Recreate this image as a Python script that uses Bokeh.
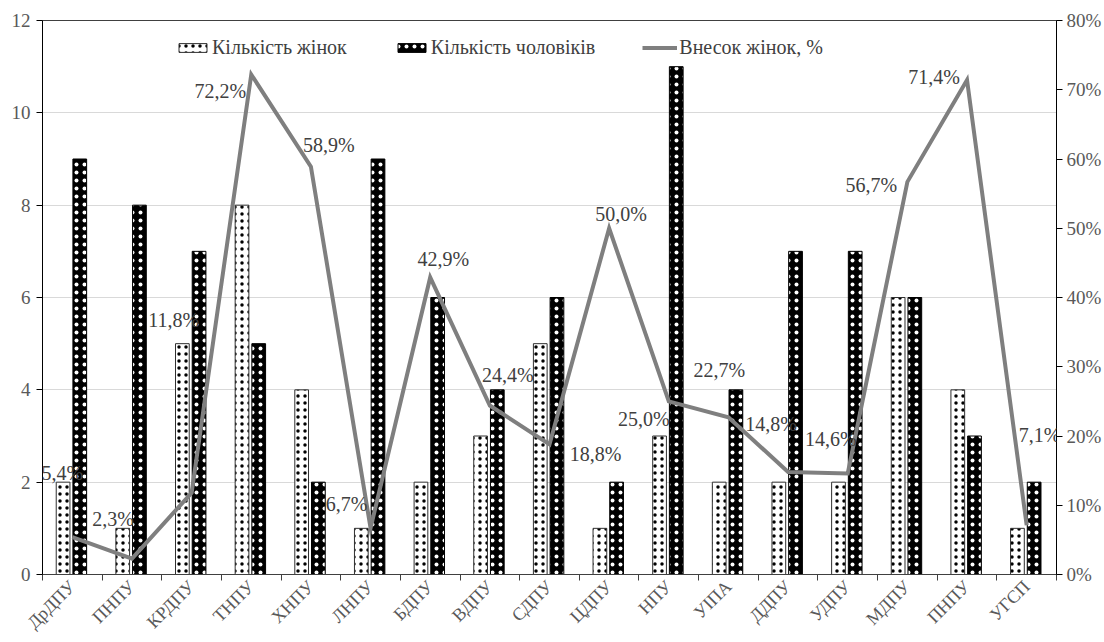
import numpy as np
from bokeh.plotting import figure
from bokeh.models import (ColumnDataSource, Range1d, LinearAxis, FixedTicker,
                          PrintfTickFormatter, Legend, LegendItem, Label)
from bokeh.transform import dodge
from bokeh.embed import file_html
from bokeh.resources import INLINE

categories = ["ДрДПУ", "ПНПУ", "КРДПУ", "ТНПУ", "ХНПУ", "ЛНПУ", "БДПУ", "ВДПУ",
              "СДПУ", "ЦДПУ", "НПУ", "УІПА", "ДДПУ", "УДПУ", "МДПУ", "ПНПУ", "УГСП"]
women = [2, 1, 5, 8, 4, 1, 2, 3, 5, 1, 3, 2, 2, 2, 6, 4, 1]
men = [9, 8, 7, 5, 2, 9, 6, 4, 6, 2, 11, 4, 7, 7, 6, 3, 2]
share_pct = [5.4, 2.3, 11.8, 72.2, 58.9, 6.7, 42.9, 24.4, 18.8, 50.0, 25.0, 22.7,
             14.8, 14.6, 56.7, 71.4, 7.1]
left_ticks = [0, 2, 4, 6, 8, 10, 12]
right_ticks = [0, 10, 20, 30, 40, 50, 60, 70, 80]

# label placement (screen pixel offsets from each line point; dy positive = down)
label_dx = [-10, -19, -18, -31, 18, -24, 13, 18, 46, 12, -25, -9, -17, -17, -36, -33, 13]
label_dy = [-64, -40, -173, 16, -22, -24, -18, -31, 10, -14, 18, -47, -48, -34, 3, -3, -90]

FONT = "'Liberation Serif', 'Times New Roman', serif"
TICK_COLOR = "#595959"
TEXT_COLOR = "#404040"

n = len(categories)
xpos = np.arange(n) + 0.5
src = ColumnDataSource(dict(x=xpos, women=women, men=men, pct=share_pct))

p = figure(width=1104, height=642, x_range=Range1d(0, n), y_range=Range1d(0, 12),
           output_backend="svg", toolbar_location=None,
           min_border_left=42, min_border_right=45, min_border_top=20, min_border_bottom=64)
p.extra_y_ranges = {"pct": Range1d(0, 80)}

p.background_fill_color = "white"
p.border_fill_color = "white"
p.outline_line_color = "#404040"
p.outline_line_width = 1

# grid
p.xgrid.grid_line_color = None
p.ygrid.grid_line_color = "#d9d9d9"
p.ygrid.grid_line_width = 1

# x axis
xa = p.xaxis[0]
xa.ticker = FixedTicker(ticks=list(xpos), minor_ticks=list(range(n + 1)))
xa.major_label_overrides = {float(x): c for x, c in zip(xpos, categories)}
xa.major_label_orientation = np.pi / 4
xa.major_tick_line_color = None
xa.minor_tick_line_color = "#404040"
xa.minor_tick_out = 6
xa.minor_tick_in = 0
xa.axis_line_color = "#404040"
xa.major_label_text_font = FONT
xa.major_label_text_font_size = "18px"
xa.major_label_text_color = TICK_COLOR
xa.major_label_standoff = 3

# left axis
ya = p.yaxis[0]
ya.ticker = FixedTicker(ticks=left_ticks)
ya.minor_tick_line_color = None
ya.major_tick_out = 6
ya.major_tick_in = 0
ya.axis_line_color = "black"
ya.major_tick_line_color = "black"
ya.major_label_text_font = FONT
ya.major_label_text_font_size = "19px"
ya.major_label_text_color = TICK_COLOR
ya.major_label_standoff = 6

# right axis
ra = LinearAxis(y_range_name="pct", ticker=FixedTicker(ticks=right_ticks),
                formatter=PrintfTickFormatter(format="%d%%"))
ra.minor_tick_line_color = None
ra.major_tick_out = 6
ra.major_tick_in = 0
ra.axis_line_color = "black"
ra.major_tick_line_color = "black"
ra.major_label_text_font = FONT
ra.major_label_text_font_size = "19px"
ra.major_label_text_color = TICK_COLOR
ra.major_label_standoff = 4
p.add_layout(ra, "right")

# bars
bw = 0.23
rw = p.vbar(x=dodge("x", -0.155, range=p.x_range), top="women", width=bw, bottom=0,
            source=src, fill_color="white", line_color="#303030", line_width=1,
            hatch_pattern="dot", hatch_color="black", hatch_scale=7, hatch_weight=0.5)
rm = p.vbar(x=dodge("x", 0.125, range=p.x_range), top="men", width=bw, bottom=0,
            source=src, fill_color="black", line_color="black", line_width=1,
            hatch_pattern="dot", hatch_color="white", hatch_scale=8, hatch_weight=1.1)

# line
rl = p.line(x="x", y="pct", source=src, y_range_name="pct",
            line_color="#7f7f7f", line_width=4, line_join="miter")

# data labels
for x, v, dx, dy in zip(xpos, share_pct, label_dx, label_dy):
    p.add_layout(Label(x=float(x), y=v, y_range_name="pct",
                       text=f"{v:.1f}".replace(".", ",") + "%",
                       x_offset=dx, y_offset=-dy,
                       text_align="center", text_baseline="middle",
                       text_font=FONT, text_font_size="20px", text_color=TEXT_COLOR))

legend = Legend(items=[
    LegendItem(label="Кількість жінок", renderers=[rw]),
    LegendItem(label="Кількість чоловіків", renderers=[rm]),
    LegendItem(label="Внесок жінок, %", renderers=[rl]),
], orientation="horizontal", location=(133, 515))
legend.label_text_font = FONT
legend.label_text_font_size = "20px"
legend.label_text_color = TEXT_COLOR
legend.glyph_width = 35
legend.glyph_height = 11
legend.label_height = 20
legend.label_standoff = 2
legend.spacing = 47
legend.padding = 0
legend.margin = 0
legend.border_line_color = None
legend.background_fill_alpha = 0
p.add_layout(legend, "center")

open("out.html", "w").write(file_html(p, INLINE))
